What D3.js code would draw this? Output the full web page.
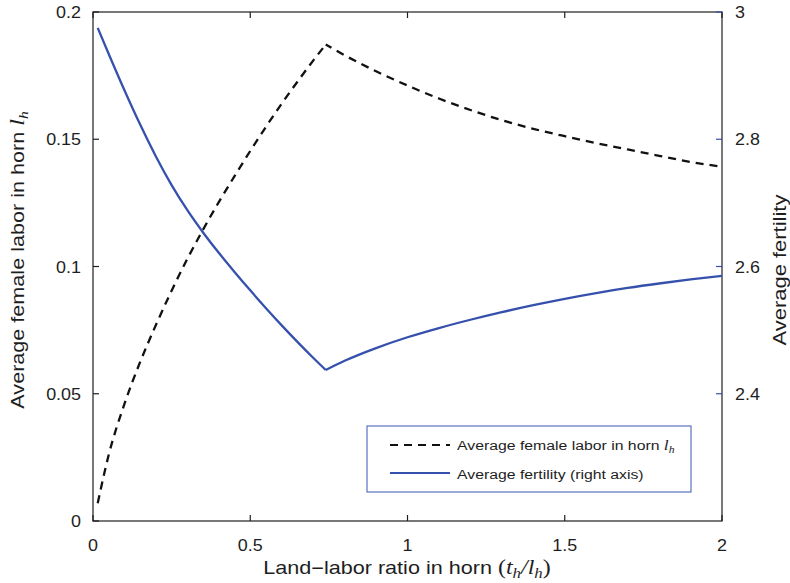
<!DOCTYPE html>
<html><head><meta charset="utf-8">
<script src="https://cdn.jsdelivr.net/npm/d3@7"></script>
<style>body{margin:0;background:#fff}svg{display:block}</style>
</head><body>
<svg id="c" width="790" height="583"></svg>
<script>
const xVals = [0.015,0.05,0.1,0.15,0.2,0.25,0.3,0.35,0.4,0.45,0.5,0.55,0.6,0.65,0.7,0.74,0.8,0.9,1.0,1.1,1.2,1.3,1.4,1.5,1.6,1.7,1.8,1.9,2.0];
const laborVals = [0.007,0.026,0.046,0.0625,0.077,0.0905,0.103,0.1145,0.1253,0.1355,0.1454,0.1549,0.1640,0.1726,0.1809,0.1872,0.1830,0.1767,0.1711,0.1660,0.1615,0.1575,0.1541,0.1512,0.1485,0.1460,0.1435,0.1411,0.1392];
const fertVals = [2.975,2.934,2.877,2.823,2.773,2.728,2.6885,2.6535,2.6215,2.5915,2.5625,2.5345,2.5075,2.4815,2.4565,2.4373,2.4518,2.4718,2.4888,2.5033,2.5163,2.5283,2.5393,2.5493,2.5583,2.5663,2.5733,2.5796,2.5853];
const xTicks = [0,0.5,1,1.5,2];
const yLeftTicks = [0,0.05,0.1,0.15,0.2];
const yRightTicks = [2.4,2.6,2.8,3];

const svg = d3.select("#c");
const L = 93, R = 722, T = 12, B = 521;
const x = d3.scaleLinear().domain([0,2]).range([L,R]);
const yL = d3.scaleLinear().domain([0,0.2]).range([B,T]);
const yR = d3.scaleLinear().domain([2.2,3]).range([B,T]);
const blue = "#3651ad";
const ink = "#1e1e1e";
const font = "'Liberation Sans', Arial, Helvetica, sans-serif";
const serif = "'Liberation Serif', 'Times New Roman', serif";

function txt(px, py, anchor, size, sx, rot) {
  return svg.append("text")
    .attr("transform", `translate(${px},${py})` + (rot ? ` rotate(${rot})` : "") + ` scale(${sx},1)`)
    .attr("text-anchor", anchor).attr("font-family", font).attr("font-size", size).attr("fill", ink);
}

// box
svg.append("rect").attr("x",L).attr("y",T).attr("width",R-L).attr("height",B-T)
  .attr("fill","none").attr("stroke",ink).attr("stroke-width",1.2);

const tl = 6;
xTicks.forEach(t=>{
  svg.append("line").attr("x1",x(t)).attr("x2",x(t)).attr("y1",B).attr("y2",B-tl).attr("stroke",ink).attr("stroke-width",1.2);
  svg.append("line").attr("x1",x(t)).attr("x2",x(t)).attr("y1",T).attr("y2",T+tl).attr("stroke",ink).attr("stroke-width",1.2);
  txt(x(t), B+30, "middle", 16, 1.12).text(d3.format("")(t));
});
yLeftTicks.forEach(t=>{
  svg.append("line").attr("x1",L).attr("x2",L+tl).attr("y1",yL(t)).attr("y2",yL(t)).attr("stroke",ink).attr("stroke-width",1.2);
  txt(L-12, yL(t)+6, "end", 16, 1.12).text(d3.format("")(t));
});
yRightTicks.forEach(t=>{
  svg.append("line").attr("x1",R).attr("x2",R-tl).attr("y1",yR(t)).attr("y2",yR(t)).attr("stroke",blue).attr("stroke-width",1.2);
  txt(R+13, yR(t)+6, "start", 16, 1.12).text(d3.format("")(t));
});

// lines
const data = xVals.map((v,i)=>({x:v,l:laborVals[i],f:fertVals[i]}));
const peak = xVals.indexOf(0.74);
const curve = d3.curveMonotoneX;
const lineL = d3.line().x(d=>x(d.x)).y(d=>yL(d.l)).curve(curve);
const lineF = d3.line().x(d=>x(d.x)).y(d=>yR(d.f)).curve(curve);
const seg = (a,b)=>data.slice(a,b);
const p1 = svg.append("path").attr("d", lineL(seg(0,peak+1))).attr("fill","none").attr("stroke","#111").attr("stroke-width",2.3).attr("stroke-dasharray","8,6");
const len1 = p1.node().getTotalLength();
svg.append("path").attr("d", lineL(seg(peak,data.length))).attr("fill","none").attr("stroke","#111").attr("stroke-width",2.3)
  .attr("stroke-dasharray","8,6").attr("stroke-dashoffset", -(len1 % 14));
svg.append("path").attr("d", lineF(seg(0,peak+1))).attr("fill","none").attr("stroke",blue).attr("stroke-width",2.3).attr("stroke-linejoin","round");
svg.append("path").attr("d", lineF(seg(peak,data.length))).attr("fill","none").attr("stroke",blue).attr("stroke-width",2.3).attr("stroke-linejoin","round");

// legend
svg.append("rect").attr("x",367).attr("y",426).attr("width",324).attr("height",66).attr("fill","#fff").attr("stroke","#5a72c2").attr("stroke-width",1.2);
svg.append("line").attr("x1",390).attr("x2",450).attr("y1",445).attr("y2",445).attr("stroke","#111").attr("stroke-width",2).attr("stroke-dasharray","8,6");
svg.append("line").attr("x1",390).attr("x2",450).attr("y1",473).attr("y2",473).attr("stroke",blue).attr("stroke-width",2);
const t1 = txt(457, 450, "start", 13.5, 1.17);
t1.append("tspan").text("Average female labor in horn ");
t1.append("tspan").attr("font-family",serif).attr("font-style","italic").attr("font-size",15).text("l");
t1.append("tspan").attr("font-family",serif).attr("font-style","italic").attr("font-size",10).attr("dy",3).text("h");
txt(457, 479, "start", 13.5, 1.17).text("Average fertility (right axis)");

// x title
const xt = txt(407, 574, "middle", 18, 1.2);
xt.append("tspan").text("Land\u2212labor ratio in horn ");
xt.append("tspan").attr("font-family",serif).attr("font-size",20).text("(");
xt.append("tspan").attr("font-family",serif).attr("font-style","italic").attr("font-size",20).text("t");
xt.append("tspan").attr("font-family",serif).attr("font-style","italic").attr("font-size",14).attr("dy",4).text("h");
xt.append("tspan").attr("font-family",serif).attr("font-style","italic").attr("font-size",20).attr("dy",-4).text("/l");
xt.append("tspan").attr("font-family",serif).attr("font-style","italic").attr("font-size",14).attr("dy",4).text("h");
xt.append("tspan").attr("font-family",serif).attr("font-size",20).attr("dy",-4).text(")");

// left title
const yt = txt(24, 260, "middle", 18, 1.2, -90);
yt.append("tspan").text("Average female labor in horn ");
yt.append("tspan").attr("font-family",serif).attr("font-style","italic").attr("font-size",20).text("l");
yt.append("tspan").attr("font-family",serif).attr("font-style","italic").attr("font-size",13).attr("dy",4).text("h");

// right title
txt(786, 270, "middle", 18, 1.22, -90).text("Average fertility");
</script>
</body></html>
